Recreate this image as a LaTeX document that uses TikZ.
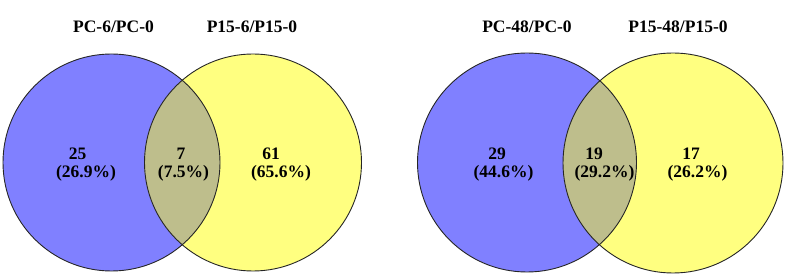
\documentclass[tikz,border=0pt]{standalone}
\usepackage{fontspec}
\setmainfont{Liberation Serif}
\usetikzlibrary{positioning}
\definecolor{vennblue}{RGB}{128,128,255}
\definecolor{vennyellow}{RGB}{255,255,128}
\definecolor{vennmix}{RGB}{190,190,140}
\tikzset{
  setA/.style={fill=vennblue},
  setB/.style={fill=vennyellow},
  rim/.style={draw=black!85, line width=0.9pt},
  count/.style={align=center, inner sep=0pt, font=\bfseries\fontsize{17.5}{18}\selectfont},
  setname/.style={inner sep=0pt, font=\bfseries\fontsize{17.5}{18}\selectfont}
}
\begin{document}
\begin{tikzpicture}[x=1pt,y=-1pt]
        \useasboundingbox (0,0) rectangle (787,275);
        %coordinate dei centri
        \coordinate (cA1) at (111.5,162.5);
        \coordinate (cB1) at (253,162.5);
        \coordinate (cA2) at (527,162.5);
        \coordinate (cB2) at (673,163);
        %disegno cerchi
        \fill[setA] (cA1) circle (108.5);
        \fill[setB] (cB1) circle (108.5);
        \fill[setA] (cA2) circle (109.5);
        \fill[setB] (cB2) circle (110);
        %intersezioni
        \begin{scope}
            \clip (cA1) circle (108.5);
            \fill[vennmix] (cB1) circle (108.5);
        \end{scope}
        \begin{scope}
            \clip (cA2) circle (109.5);
            \fill[vennmix] (cB2) circle (110);
        \end{scope}
        %bordi
        \draw[rim] (cA1) circle (108.5);
        \draw[rim] (cB1) circle (108.5);
        \draw[rim] (cA2) circle (109.5);
        \draw[rim] (cB2) circle (110);
        %titoli
        \node[setname] (tA1) at (113.5,27) {PC-6/PC-0};
        \node[setname] (tB1) at (252,27) {P15-6/P15-0};
        \node[setname] (tA2) at (527,27) {PC-48/PC-0};
        \node[setname] (tB2) at (678,27) {P15-48/P15-0};
        %numeri
        \node[count] (nA1) at (86,165) {25\hspace*{17pt}\\(26.9\%)};
        \node[count] (nAB1) at (183.5,165) {7\hspace*{5pt}\\(7.5\%)};
        \node[count] (nB1) at (281,165) {61\hspace*{20pt}\\(65.6\%)};
        \node[count] (nA2) at (503.5,165) {29\hspace*{13pt}\\(44.6\%)};
        \node[count] (nAB2) at (604.5,165) {19\hspace*{21pt}\\(29.2\%)};
        \node[count] (nB2) at (697.5,165) {17\hspace*{13pt}\\(26.2\%)};
\end{tikzpicture}
\end{document}
